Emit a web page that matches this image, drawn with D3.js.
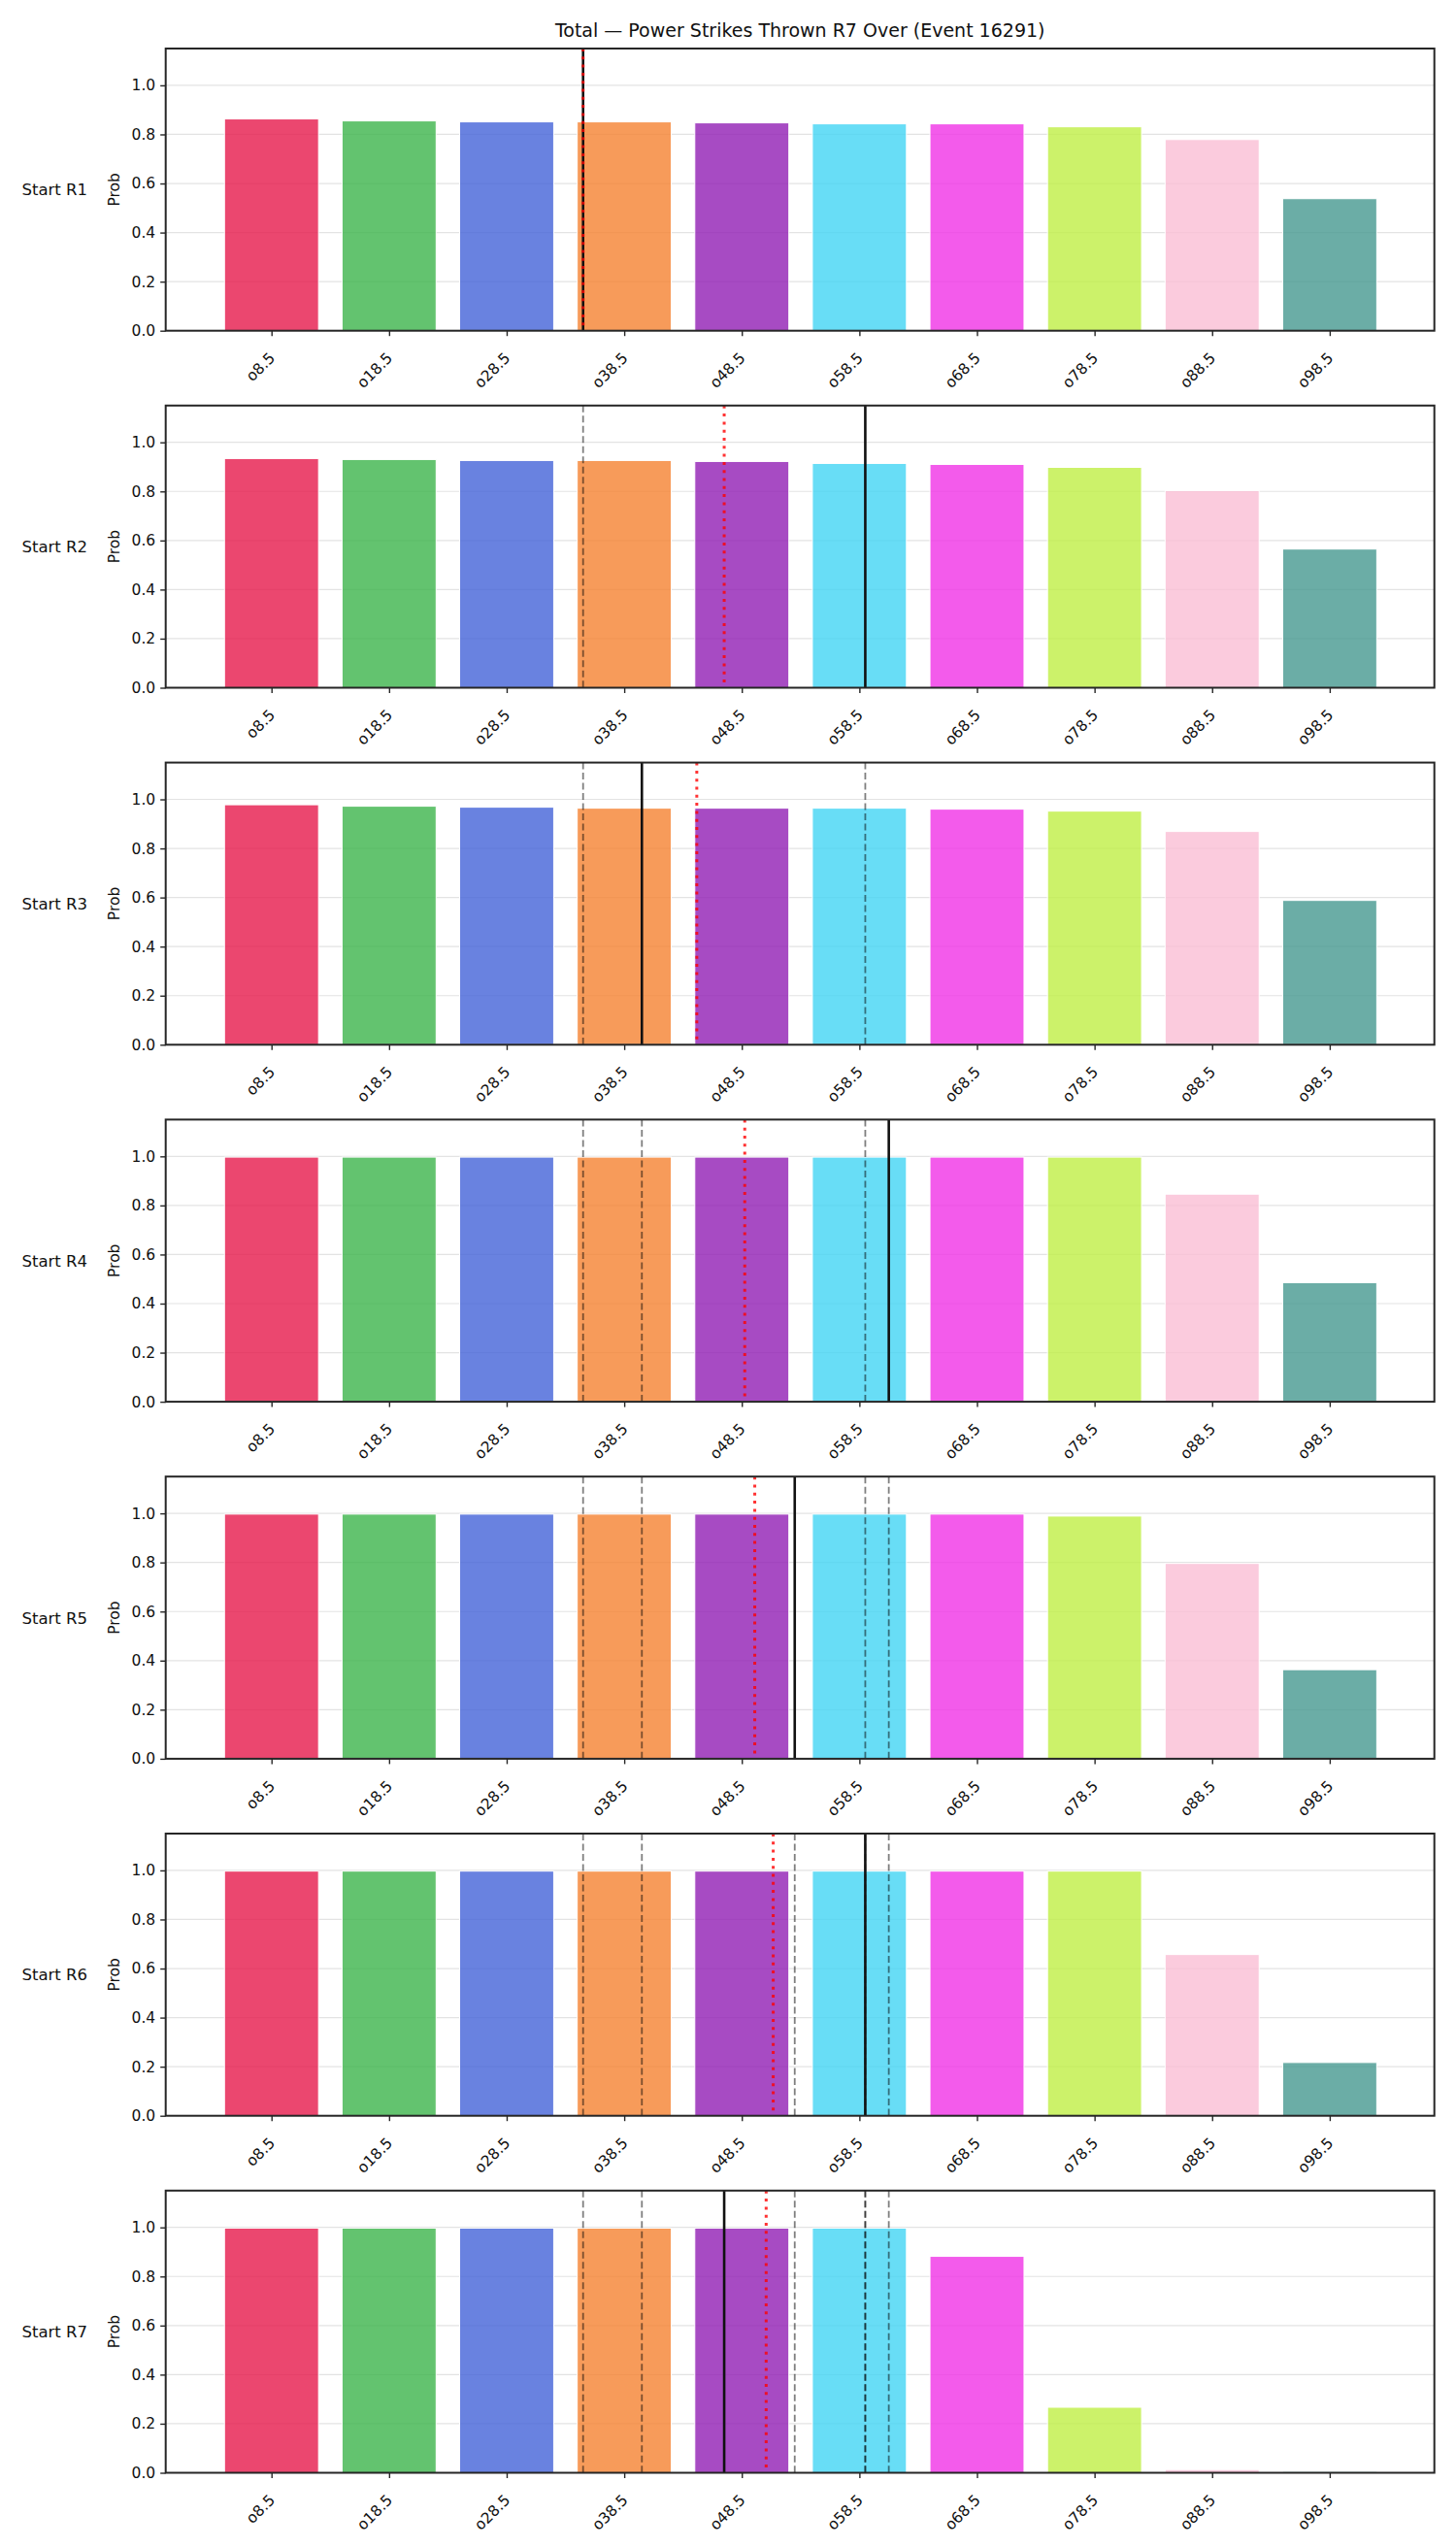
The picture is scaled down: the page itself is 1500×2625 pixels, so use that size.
<!DOCTYPE html>
<html>
<head>
<meta charset="utf-8">
<script src="https://cdn.jsdelivr.net/npm/d3@7"></script>
<style>
  html, body { margin: 0; padding: 0; background: #fff; }
  text { font-family: "DejaVu Sans", sans-serif; }
</style>
</head>
<body>
<div id="chart"></div>
<script>
// Svg defs
let w = 1500,
    h = 2625;

// Data defs
let thresholds = ["o8.5", "o18.5", "o28.5", "o38.5", "o48.5", "o58.5", "o68.5", "o78.5", "o88.5", "o98.5"];
let thresholdValues = [8.5, 18.5, 28.5, 38.5, 48.5, 58.5, 68.5, 78.5, 88.5, 98.5];
let rounds = ["Start R1", "Start R2", "Start R3", "Start R4", "Start R5", "Start R6", "Start R7"];
let colors = ["#e6194b", "#3cb44b", "#4363d8", "#f58231", "#911eb4", "#42d4f4", "#f032e6", "#bfef45", "#fabed4", "#469990"];

let probR1 = [0.863, 0.855, 0.851, 0.851, 0.847, 0.843, 0.843, 0.831, 0.779, 0.538];
let probR2 = [0.934, 0.930, 0.926, 0.926, 0.922, 0.914, 0.910, 0.898, 0.803, 0.565];
let probR3 = [0.978, 0.972, 0.968, 0.964, 0.964, 0.964, 0.960, 0.952, 0.869, 0.588];
let probR4 = [0.997, 0.997, 0.997, 0.997, 0.997, 0.997, 0.997, 0.997, 0.846, 0.485];
let probR5 = [0.997, 0.997, 0.997, 0.997, 0.997, 0.997, 0.997, 0.989, 0.796, 0.363];
let probR6 = [0.997, 0.997, 0.997, 0.997, 0.997, 0.997, 0.997, 0.997, 0.657, 0.217];
let probR7 = [0.997, 0.997, 0.997, 0.997, 0.997, 0.997, 0.882, 0.267, 0.013, 0.005];
let probs = [probR1, probR2, probR3, probR4, probR5, probR6, probR7];

// strikes thrown in each round (solid line), running average (red dotted)
let roundStrikes = [35, 59, 40, 61, 53, 59, 47];
let runningMean = [35, 47, 44.67, 48.75, 49.6, 51.17, 50.57];

let title = "Total \u2014 Power Strikes Thrown R7 Over (Event 16291)";
let yTicks = [0, 0.2, 0.4, 0.6, 0.8, 1.0];

// Layout
let left = 170.7, right = 1477.7;
let top0 = 50, panelH = 290.7, panelStep = 367.8;

let x = d3.scaleLinear().domain([-0.9, 9.89]).range([left, right]);
let xs = d3.scaleLinear().domain([thresholdValues[0], thresholdValues[9]]).range([x(0), x(9)]);
let y = d3.scaleLinear().domain([0, 1.15]).range([panelH, 0]);

let svg = d3.select("#chart")
  .append("svg")
  .attr("width", w)
  .attr("height", h)
  .attr("viewBox", [0, 0, w, h]);

svg.append("rect").attr("width", w).attr("height", h).attr("fill", "#fff");

svg.append("text")
  .attr("x", (left + right) / 2)
  .attr("y", 38)
  .attr("text-anchor", "middle")
  .attr("font-size", 19)
  .attr("fill", "#111")
  .text(title);

rounds.forEach((name, r) => {
  let g = svg.append("g").attr("transform", `translate(0,${top0 + r * panelStep})`);

  // grid
  g.append("g")
    .selectAll("line")
    .data(yTicks)
    .join("line")
    .attr("x1", left).attr("x2", right)
    .attr("y1", d => y(d)).attr("y2", d => y(d))
    .attr("stroke", "#b0b0b0")
    .attr("stroke-opacity", 0.35)
    .attr("stroke-width", 1.2);

  // bars
  g.append("g")
    .selectAll("rect")
    .data(probs[r])
    .join("rect")
    .attr("x", (d, i) => x(i - 0.4))
    .attr("width", x(0.8) - x(0))
    .attr("y", d => y(d))
    .attr("height", d => y(0) - y(d))
    .attr("fill", (d, i) => colors[i])
    .attr("fill-opacity", 0.8)
    .attr("stroke", "#fff")
    .attr("stroke-width", 1);

  // previous rounds (dashed)
  g.append("g")
    .selectAll("line")
    .data(roundStrikes.slice(0, r))
    .join("line")
    .attr("x1", d => xs(d)).attr("x2", d => xs(d))
    .attr("y1", 0).attr("y2", panelH)
    .attr("stroke", "#000")
    .attr("stroke-opacity", 0.5)
    .attr("stroke-width", 1.8)
    .attr("stroke-dasharray", "7 3.5");

  // this round (solid)
  g.append("line")
    .attr("x1", xs(roundStrikes[r])).attr("x2", xs(roundStrikes[r]))
    .attr("y1", 0).attr("y2", panelH)
    .attr("stroke", "#111")
    .attr("stroke-width", 2.6);

  // running mean (dotted red)
  g.append("line")
    .attr("x1", xs(runningMean[r])).attr("x2", xs(runningMean[r]))
    .attr("y1", 0).attr("y2", panelH)
    .attr("stroke", "red")
    .attr("stroke-opacity", 0.8)
    .attr("stroke-width", 3)
    .attr("stroke-dasharray", "3 5.3");

  // frame
  g.append("rect")
    .attr("x", left).attr("y", 0)
    .attr("width", right - left).attr("height", panelH)
    .attr("fill", "none")
    .attr("stroke", "#262626")
    .attr("stroke-width", 2);

  // y axis
  let ya = g.append("g")
    .attr("transform", `translate(${left},0)`)
    .call(d3.axisLeft(y).tickValues(yTicks).tickFormat(d3.format(".1f")).tickSize(5.5).tickPadding(5));
  ya.select(".domain").remove();
  ya.selectAll(".tick line").attr("stroke", "#262626").attr("stroke-width", 1.4);
  ya.selectAll(".tick text").attr("font-size", 15.5).attr("fill", "#111").attr("font-family", "DejaVu Sans");

  // x axis
  let xa = g.append("g")
    .attr("transform", `translate(0,${panelH})`)
    .call(d3.axisBottom(x).tickValues(d3.range(10)).tickFormat(i => thresholds[i]).tickSize(5.5));
  xa.select(".domain").remove();
  xa.selectAll(".tick line").attr("stroke", "#262626").attr("stroke-width", 1.4);
  xa.selectAll(".tick text")
    .attr("font-size", 15.5)
    .attr("fill", "#111")
    .attr("font-family", "DejaVu Sans")
    .attr("text-anchor", "end")
    .attr("x", 0).attr("y", 0).attr("dy", null)
    .attr("transform", "translate(4,29) rotate(-45)");

  // y label
  g.append("text")
    .attr("transform", `translate(123,${panelH / 2}) rotate(-90)`)
    .attr("text-anchor", "middle")
    .attr("font-size", 15.5)
    .attr("fill", "#111")
    .text("Prob");

  // row label
  g.append("text")
    .attr("x", 90)
    .attr("y", panelH / 2 + 6)
    .attr("text-anchor", "end")
    .attr("font-size", 16.5)
    .attr("fill", "#111")
    .text(name);
});
</script>
</body>
</html>
